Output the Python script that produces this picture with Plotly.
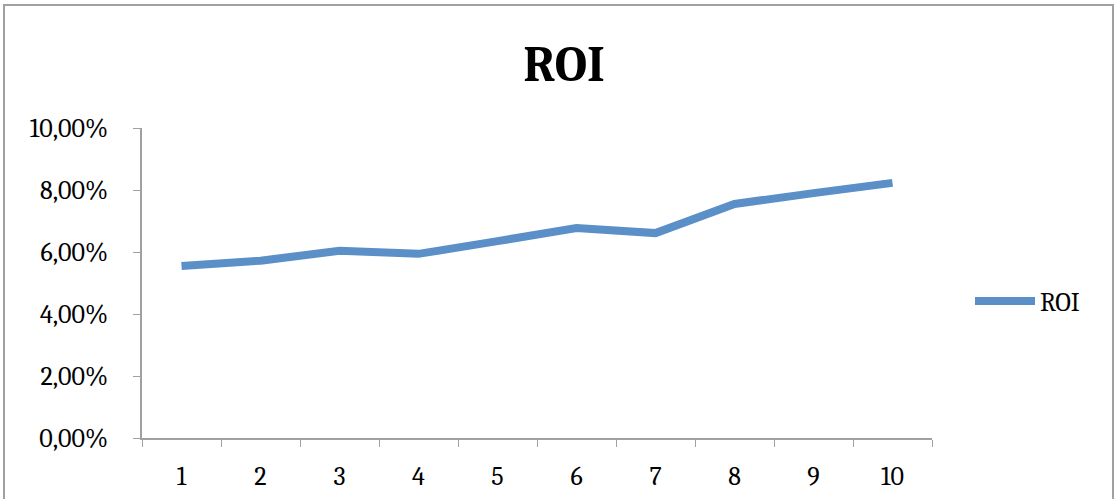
import plotly.graph_objects as go

categories = ["1", "2", "3", "4", "5", "6", "7", "8", "9", "10"]
roi = [0.0555, 0.0572, 0.0604, 0.0594, 0.0635, 0.0677, 0.0661, 0.0755, 0.0790, 0.0823]
y_ticks = [0, 0.02, 0.04, 0.06, 0.08, 0.10]

W, H = 1117, 499
L, R, T, B = 142, 932, 128, 438
pw, ph = R - L, B - T

fig = go.Figure()
fig.add_trace(go.Scatter(
    x=categories, y=roi, mode="lines", name="ROI",
    line=dict(color="#5B8FC7", width=8),
))

serif = "Cambria, 'Liberation Serif', 'DejaVu Serif', serif"
fig.update_layout(
    width=W, height=H,
    margin=dict(l=L, r=W - R, t=T, b=H - B, autoexpand=False),
    paper_bgcolor="white", plot_bgcolor="white",
    separators=",.",
    title=dict(text="<b>ROI</b>", x=0.505, xanchor="center", y=(499 - 63) / 499, yanchor="middle",
               font=dict(family=serif, size=50, color="black")),
    font=dict(family=serif, size=26, color="black"),
    showlegend=True,
    legend=dict(x=(970 - L) / pw, y=(438 - 301) / ph, xanchor="left", yanchor="middle",
                itemwidth=60,
                font=dict(family=serif, size=26, color="black"), bgcolor="rgba(0,0,0,0)"),
    xaxis=dict(type="category", range=[-0.5, 9.5], tickson="boundaries", ticks="outside", ticklen=7,
               tickcolor="#A0A0A0", showline=True, linecolor="#A0A0A0", linewidth=1.5,
               showgrid=False, zeroline=False, tickfont=dict(size=26), ticklabelstandoff=14),
    yaxis=dict(range=[0, 0.10], tickvals=y_ticks, tickformat=".2%", ticks="outside",
               ticklen=7, tickcolor="#A0A0A0", showline=True, linecolor="#A0A0A0",
               linewidth=1.5, showgrid=False, zeroline=False, tickfont=dict(size=26),
               ticklabelstandoff=20),
)

fig.add_shape(type="rect", xref="paper", yref="paper",
              x0=(4 - L) / pw, x1=(1113 - L) / pw,
              y0=(B - 510) / ph, y1=(B - 5) / ph,
              line=dict(color="#A0A0A0", width=2), fillcolor="rgba(0,0,0,0)", layer="below")

fig.write_html("out.html", post_script="document.body.style.margin='0';",
               config={"displayModeBar": False})
